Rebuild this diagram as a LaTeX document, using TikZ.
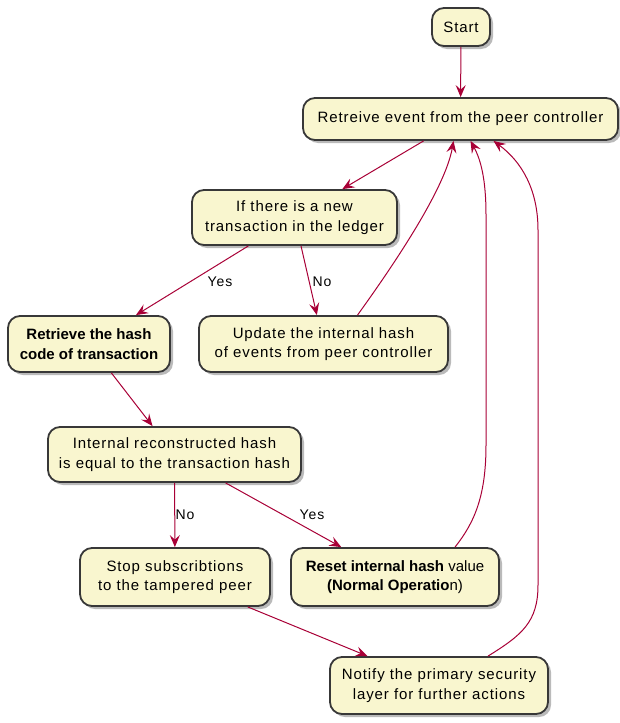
\documentclass[tikz,border=0pt]{standalone}
\usepackage{fontspec}
\setmainfont{Liberation Sans}
\newfontfamily\spaced[LetterSpace=6]{Liberation Sans}
\usetikzlibrary{shadows,arrows.meta,calc}
\definecolor{boxfill}{HTML}{F9F6CF}
\definecolor{boxline}{HTML}{383838}
\definecolor{arr}{HTML}{A80036}
\begin{document}
\begin{tikzpicture}[x=1pt,y=-1pt,
  act/.style={draw=boxline, line width=1.8pt, fill=boxfill, rounded corners=12pt,
    align=center, inner sep=0pt, font=\spaced\fontsize{15}{19.5}\selectfont,
    drop shadow={shadow xshift=3pt, shadow yshift=-3pt, fill=black!45, opacity=0.6}},
  flow/.style={draw=arr, line width=1pt, -{Stealth[length=12pt,width=10pt,inset=4.5pt]}},
  lbl/.style={font=\spaced\fontsize{14}{16}\selectfont, inner sep=0pt}]
\useasboundingbox (0,0) rectangle (619,723);
\node[act, minimum width=58pt, minimum height=38pt] (start) at (461,27) {Start};
\node[act, minimum width=315pt, minimum height=42pt] (ret) at (460.5,119) {Retreive event from the peer controller};
\node[act, minimum width=205pt, minimum height=55pt] (if) at (294.5,217.5) {If there is a new\\transaction in the ledger};
\node[act, minimum width=162pt, minimum height=56pt, font=\bfseries\fontsize{15}{19.5}\selectfont] (rh) at (89,344) {Retrieve the hash\\code of transaction};
\node[act, minimum width=249pt, minimum height=56pt] (upd) at (323.5,344) {Update the internal hash\\of events from peer controller};
\node[act, minimum width=253pt, minimum height=55pt] (int) at (174.5,454.5) {Internal reconstructed hash\\is equal to the transaction hash};
\node[act, minimum width=190pt, minimum height=58pt] (stop) at (175,577) {Stop subscribtions\\to the tampered peer};
\node[act, minimum width=208pt, minimum height=58pt, font=\fontsize{15}{19.5}\selectfont] (rst) at (395,577) {\textbf{Reset internal hash} value\\\textbf{(Normal Operatio}n)};
\node[act, minimum width=218pt, minimum height=57pt] (ntf) at (439,685.5) {Notify the primary security\\layer for further actions};

\node[lbl] (l1) at (220,282) {Yes};
\node[lbl] (l2) at (322,282) {No};
\node[lbl] (l3) at (185,515) {No};
\node[lbl] (l4) at (312,515) {Yes};

\draw[flow] (start) -- (ret);
\draw[flow] (ret) -- (if);
\draw[flow] (if) -- (rh);
\draw[flow] (if) -- (upd);
\draw[flow] (rh) -- (int);
\draw[flow] (int) -- (stop);
\draw[flow] (int) -- (rst);
\draw[flow] (stop) -- (ntf);
\draw[flow] ($(upd.north)+(34,0)$) .. controls (390,270) and (445,190) .. ($(ret.south)+(-7,0)$);
\draw[flow] ($(rst.north)+(60,0)$) .. controls (475,522) and (486,495) .. (486,445) -- (486,215) .. controls (486,180) and (481,160) .. ($(ret.south)+(10,0)$);
\draw[flow] ($(ntf.north)+(49,0)$) .. controls (522,635) and (538,622) .. (538,585) -- (538,230) .. controls (538,190) and (522,162) .. ($(ret.south)+(33,0)$);
\end{tikzpicture}
\end{document}
